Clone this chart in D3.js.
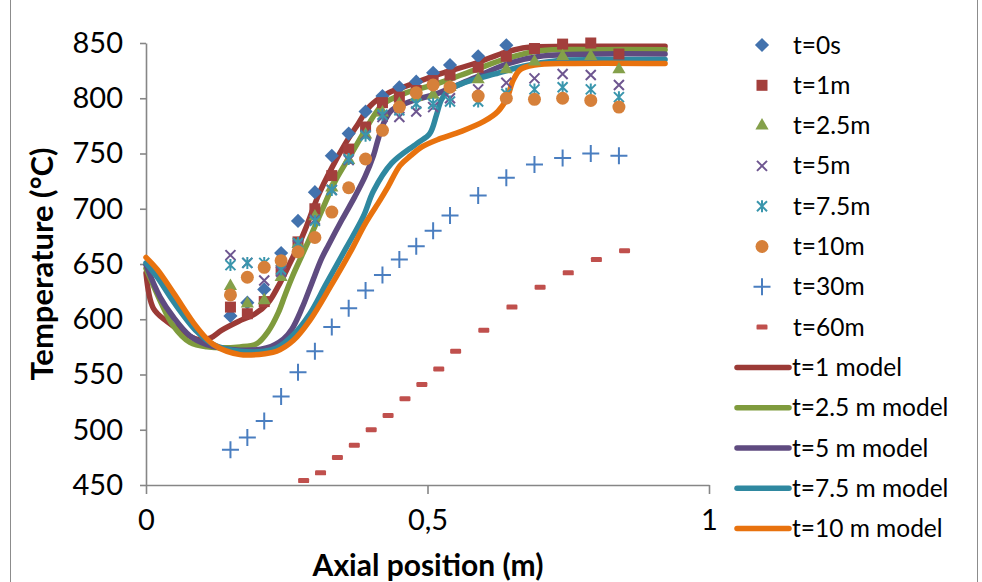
<!DOCTYPE html>
<html>
<head>
<meta charset="utf-8">
<script src="https://cdn.jsdelivr.net/npm/d3@7"></script>
<style>
  body { margin: 0; background: #fff; }
  svg { display: block; }
  text { font-family: Lato, "Open Sans", sans-serif; fill: #000; }
</style>
</head>
<body>
<svg id="chart" width="982" height="582"></svg>
<script>
;(function () {

  'use strict';

  // measured points (axial position in m, temperature in °C)
  var positions   = [0.15, 0.18, 0.21, 0.24, 0.27, 0.30, 0.33, 0.36, 0.39, 0.42, 0.45, 0.48, 0.51, 0.54, 0.59, 0.64, 0.69, 0.74, 0.79, 0.84];
  var positions60 = [0.28, 0.31, 0.34, 0.37, 0.40, 0.43, 0.46, 0.49, 0.52, 0.55, 0.60, 0.65, 0.70, 0.75, 0.80, 0.85];

  var t0s   = [603, 615, 627, 660, 689, 715, 748, 768, 788, 802, 810, 815, 823, 830, 838, 848];
  var t1m   = [611, 605, 616, 644, 670, 700, 730, 754, 774, 796, 801, 807, 816, 821, 828, 838, 845, 849, 850, 840];
  var t2_5m = [630, 614, 617, 638, 668, 693, 719, 744, 767, 787, 795, 801, 803, 810, 817, 826, 833, 838, 838, 826];
  var t5m   = [658, 651, 635, 643, 667, 690, 717, 744, 767, 783, 783, 788, 792, 800, 808, 814, 818, 822, 821, 812];
  var t7_5m = [649, 651, 651, 645, 669, 689, 717, 745, 766, 785, 789, 795, 795, 797, 797, 804, 808, 810, 808, 801];
  var t10m  = [622, 638, 647, 653, 661, 674, 697, 719, 745, 771, 792, 805, 812, 810, 802, 800, 799, 800, 798, 792];
  var t30m  = [482, 493, 508, 530, 552, 571, 593, 610, 626, 640, 654, 666, 680, 694, 712, 728, 740, 746, 750, 748];
  var t60m  = [454, 461, 475, 486, 500, 513, 528, 541, 555, 571, 590, 611, 629, 642, 654, 662];

  // model curves [position, temperature]
  var model1 = [[0, 642], [0.013, 610], [0.037, 598], [0.06, 590], [0.09, 582], [0.114, 583], [0.134, 590], [0.164, 598],
    [0.194, 605], [0.217, 615], [0.235, 630], [0.253, 648], [0.27, 666], [0.285, 684], [0.306, 712], [0.33, 737],
    [0.353, 758], [0.377, 777], [0.398, 793], [0.4275, 804], [0.457, 810], [0.516, 821], [0.581, 831], [0.641, 842],
    [0.676, 846], [0.75, 847], [0.922, 847]];
  var model2_5 = [[0, 646], [0.025, 617], [0.0485, 594], [0.078, 579], [0.108, 575], [0.167, 575], [0.197, 578],
    [0.217, 589], [0.235, 606], [0.247, 622], [0.262, 641], [0.288, 670], [0.312, 698], [0.336, 725], [0.365, 750],
    [0.389, 771], [0.407, 786], [0.4215, 795], [0.457, 804], [0.516, 813], [0.581, 825], [0.641, 836], [0.70, 843],
    [0.8, 844], [0.922, 844]];
  var model5 = [[0, 649], [0.025, 620], [0.0485, 602], [0.078, 585], [0.108, 577], [0.167, 572], [0.214, 574],
    [0.244, 582], [0.259, 591], [0.277, 610], [0.294, 632], [0.312, 655], [0.324, 667], [0.348, 690], [0.371, 711],
    [0.389, 729], [0.404, 748], [0.413, 764], [0.4245, 780], [0.436, 789], [0.475, 798], [0.516, 804], [0.581, 818],
    [0.641, 831], [0.70, 838], [0.8, 840], [0.922, 840]];
  var model7_5 = [[0, 651], [0.02, 638], [0.05, 615], [0.09, 589], [0.12, 577], [0.167, 571], [0.21, 571],
    [0.232, 574], [0.262, 586], [0.291, 605], [0.32, 632], [0.356, 665], [0.386, 693], [0.404, 716], [0.436, 741],
    [0.481, 759], [0.504, 768], [0.516, 785], [0.525, 799], [0.54, 808], [0.56, 813], [0.59, 818], [0.62, 822],
    [0.67, 829], [0.73, 834], [0.8, 835], [0.922, 835]];
  var model10 = [[0, 656], [0.02, 645], [0.05, 623], [0.09, 593], [0.12, 577], [0.167, 568], [0.214, 569],
    [0.232, 571], [0.262, 581], [0.291, 599], [0.327, 629], [0.362, 660], [0.39, 687], [0.416, 708], [0.43, 720],
    [0.451, 739], [0.47, 748], [0.49, 756], [0.52, 763], [0.56, 770], [0.60, 779], [0.625, 788], [0.641, 800],
    [0.652, 816], [0.665, 826], [0.69, 830], [0.75, 831.5], [0.922, 831.5]];

  var yTicks = [450, 500, 550, 600, 650, 700, 750, 800, 850];
  var xTicks = [0, 0.5, 1];
  var xTickLabels = ['0', '0,5', '1'];

  var pointSeries = [
    { name: 't=0s',   xs: positions,   ys: t0s,   shape: 'diamond',  color: '#4272AD' },
    { name: 't=1m',   xs: positions,   ys: t1m,   shape: 'square',   color: '#A33F3C' },
    { name: 't=2.5m', xs: positions,   ys: t2_5m, shape: 'triangle', color: '#84A04A' },
    { name: 't=5m',   xs: positions,   ys: t5m,   shape: 'times',    color: '#6E5690' },
    { name: 't=7.5m', xs: positions,   ys: t7_5m, shape: 'star',     color: '#3A96AD' },
    { name: 't=10m',  xs: positions,   ys: t10m,  shape: 'circle',   color: '#D6803A' },
    { name: 't=30m',  xs: positions,   ys: t30m,  shape: 'plus',     color: '#4A7EC0' },
    { name: 't=60m',  xs: positions60, ys: t60m,  shape: 'dash',     color: '#C0504D' }
  ];

  var lineSeries = [
    { name: 't=1 model',       data: model1,   color: '#9B3A36' },
    { name: 't=2.5 m model',   data: model2_5, color: '#7F9B3D' },
    { name: 't=5 m model',     data: model5,   color: '#5F4B80' },
    { name: 't=7.5 m model',   data: model7_5, color: '#2F88A0' },
    { name: 't=10 m model',    data: model10,  color: '#E8720E' }
  ];

  var svg = d3.select('#chart');

  // chart border
  svg.append('rect')
    .attr('x', 10.5).attr('y', -5)
    .attr('width', 967).attr('height', 600)
    .attr('fill', 'none').attr('stroke', '#8c8c8c').attr('stroke-width', 1);

  var x = d3.scaleLinear().domain([0, 1]).range([146, 709]);
  var y = d3.scaleLinear().domain([450, 850]).range([485, 43]);

  // axes
  var yAxis = svg.append('g')
    .attr('transform', 'translate(146,0)')
    .call(d3.axisLeft(y).tickValues(yTicks).tickSize(6).tickSizeOuter(0).tickPadding(17));
  var xAxis = svg.append('g')
    .attr('transform', 'translate(0,485)')
    .call(d3.axisBottom(x).tickValues(xTicks).tickSize(9).tickSizeOuter(0).tickPadding(15)
      .tickFormat(function (d, i) { return xTickLabels[i]; }));

  [yAxis, xAxis].forEach(function (g) {
    g.select('.domain').attr('stroke', '#868686').attr('stroke-width', 1.6);
    g.selectAll('.tick line').attr('stroke', '#868686').attr('stroke-width', 1.6);
    g.selectAll('.tick text').style('font-size', '29px').attr('fill', '#000');
  });

  // model lines
  var line = d3.line()
    .x(function (d) { return x(d[0]); })
    .y(function (d) { return y(d[1]); })
    .curve(d3.curveCatmullRom.alpha(0.5));

  svg.append('g').selectAll('path')
    .data(lineSeries)
    .enter().append('path')
      .attr('d', function (s) { return line(s.data); })
      .attr('fill', 'none')
      .attr('stroke', function (s) { return s.color; })
      .attr('stroke-width', 5.5)
      .attr('stroke-linejoin', 'round')
      .attr('stroke-linecap', 'round');

  // marker drawing
  function drawMarker(g, shape, color) {
    switch (shape) {
      case 'diamond':
        g.append('rect').attr('x', -5).attr('y', -5).attr('width', 10).attr('height', 10)
          .attr('transform', 'rotate(45)').attr('fill', color);
        break;
      case 'square':
        g.append('rect').attr('x', -5.5).attr('y', -5.5).attr('width', 11).attr('height', 11).attr('fill', color);
        break;
      case 'triangle':
        g.append('path').attr('d', d3.symbol().type(d3.symbolTriangle).size(75)()).attr('fill', color);
        break;
      case 'circle':
        g.append('circle').attr('r', 6.5).attr('fill', color);
        break;
      case 'times':
        g.append('path').attr('d', 'M-5,-5L5,5M-5,5L5,-5')
          .attr('stroke', color).attr('stroke-width', 2).attr('fill', 'none');
        break;
      case 'star':
        g.append('path').attr('d', 'M-5,-5L5,5M-5,5L5,-5M0,-6L0,6')
          .attr('stroke', color).attr('stroke-width', 2).attr('fill', 'none');
        break;
      case 'plus':
        g.append('path').attr('d', 'M-8.5,0L8.5,0M0,-8.5L0,8.5')
          .attr('stroke', color).attr('stroke-width', 2).attr('fill', 'none');
        break;
      case 'dash':
        g.append('rect').attr('x', -5.5).attr('y', -2.5).attr('width', 11).attr('height', 5)
          .attr('rx', 1.2).attr('fill', color);
        break;
    }
  }

  // measured markers
  pointSeries.forEach(function (s) {
    var pts = s.ys.map(function (v, i) { return [s.xs[i], v]; });
    svg.append('g').selectAll('g')
      .data(pts)
      .enter().append('g')
        .attr('transform', function (d) { return 'translate(' + x(d[0]) + ',' + y(d[1]) + ')'; })
        .each(function () { drawMarker(d3.select(this), s.shape, s.color); });
  });

  // legend
  var legend = svg.append('g');
  var rowY = d3.scaleLinear().domain([0, 1]).range([45, 85.3]);

  pointSeries.forEach(function (s, i) {
    var row = legend.append('g').attr('transform', 'translate(0,' + rowY(i) + ')');
    drawMarker(row.append('g').attr('transform', 'translate(762,0)'), s.shape, s.color);
    row.append('text').attr('x', 793).attr('dy', '0.35em').style('font-size', '24.5px').text(s.name);
  });
  lineSeries.forEach(function (s, i) {
    var row = legend.append('g').attr('transform', 'translate(0,' + rowY(i + pointSeries.length) + ')');
    row.append('line').attr('x1', 737).attr('x2', 789)
      .attr('stroke', s.color).attr('stroke-width', 5.5).attr('stroke-linecap', 'round');
    row.append('text').attr('x', 792).attr('dy', '0.35em').style('font-size', '24.5px').text(s.name);
  });

  // axis titles
  svg.append('text')
    .attr('transform', 'translate(42,264) rotate(-90)')
    .attr('text-anchor', 'middle').attr('dy', '0.35em')
    .style('font-size', '31px').style('font-weight', 'bold')
    .text('Temperature (°C)');
  svg.append('text')
    .attr('x', 428).attr('y', 565)
    .attr('text-anchor', 'middle').attr('dy', '0.35em')
    .style('font-size', '30px').style('font-weight', 'bold')
    .text('Axial position (m)');

})();
</script>
</body>
</html>
